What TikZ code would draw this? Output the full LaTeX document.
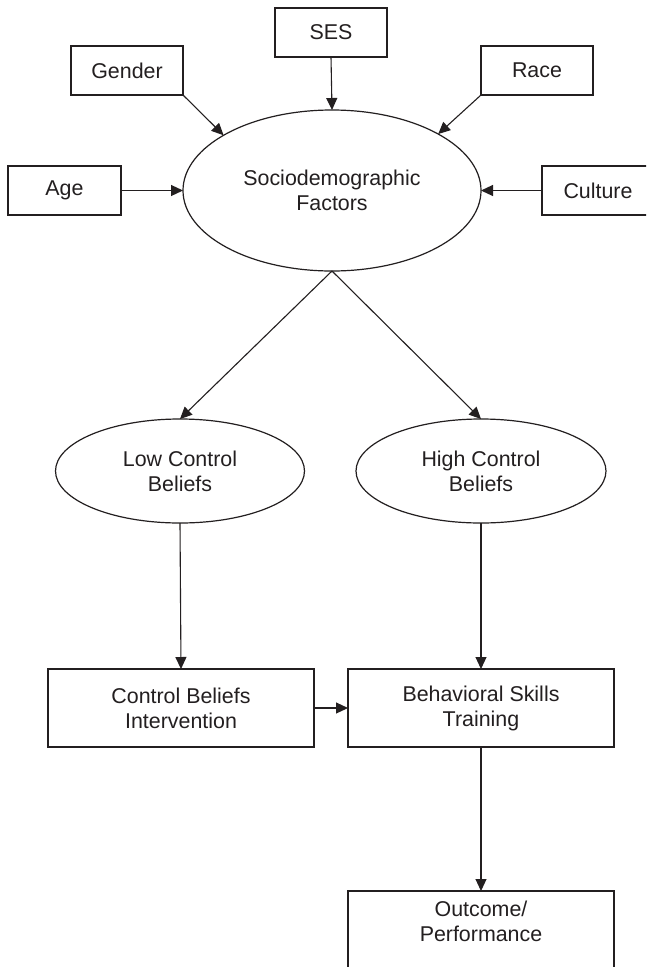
\documentclass[tikz,border=0pt]{standalone}
\usepackage{fontspec}
\setmainfont{Liberation Sans}
\usetikzlibrary{arrows.meta,shapes.geometric}
\definecolor{ink}{HTML}{231F20}
\begin{document}
\begin{tikzpicture}[x=1pt,y=-1pt,
  every node/.style={font=\fontsize{21.4}{25}\selectfont, text=ink, align=center, inner sep=0pt, outer sep=0pt},
  box/.style={draw=ink, line width=1.2pt, rectangle},
  oval/.style={draw=ink, line width=1.2pt, ellipse},
  link/.style={draw=ink, line width=1.1pt, -{Triangle[length=12pt,width=11pt]}}]
\useasboundingbox (0,0) rectangle (646,967);
\clip (0,0) rectangle (646,967);
\fill[white] (0,0) rectangle (646,967);
% top boxes
\node[box, minimum width=112pt, minimum height=49pt] (ses) at (331,32.5) {SES};
\node[box, minimum width=112pt, minimum height=49pt] (gender) at (127,70.5) {Gender};
\node[box, minimum width=112pt, minimum height=49pt] (race) at (537,70.5) {Race};
\node[box, minimum width=113pt, minimum height=49pt] (age) at (64.5,190.5) {Age};
\node[box, minimum width=112pt, minimum height=49pt] (culture) at (598,190.5) {Culture};
% ellipses
\node[oval, minimum width=298pt, minimum height=161pt] (socio) at (332,190.5) {Sociodemographic\\Factors};
\node[oval, minimum width=249pt, minimum height=104pt] (low) at (180,471) {Low Control\\Beliefs};
\node[oval, minimum width=250pt, minimum height=104pt] (high) at (481,471) {High Control\\Beliefs};
% lower boxes
\node[box, minimum width=266pt, minimum height=78pt] (cbi) at (181,708) {Control Beliefs\\Intervention};
\node[box, minimum width=266pt, minimum height=78pt] (bst) at (481,708) {Behavioral Skills\\Training};
\node[box, minimum width=266pt, minimum height=78pt] (out) at (481,930) {};
\node[anchor=north] (outtext) at (481,901) {Outcome/\\Performance};
% connectors
\draw[link] (ses.south) -- (socio.north);
\draw[link] (gender.south east) -- (socio.153);
\draw[link] (race.south west) -- (socio.28);
\draw[link] (age.east) -- (socio.west);
\draw[link] (culture.west) -- (socio.east);
\draw[link] (socio.south) -- (low.north);
\draw[link] (socio.south) -- (high.north);
\draw[link] (low.south) -- (cbi.north);
\draw[link] (high.south) -- (bst.north);
\draw[link] (cbi.east) -- (bst.west);
\draw[link] (bst.south) -- (out.north);
\end{tikzpicture}
\end{document}
